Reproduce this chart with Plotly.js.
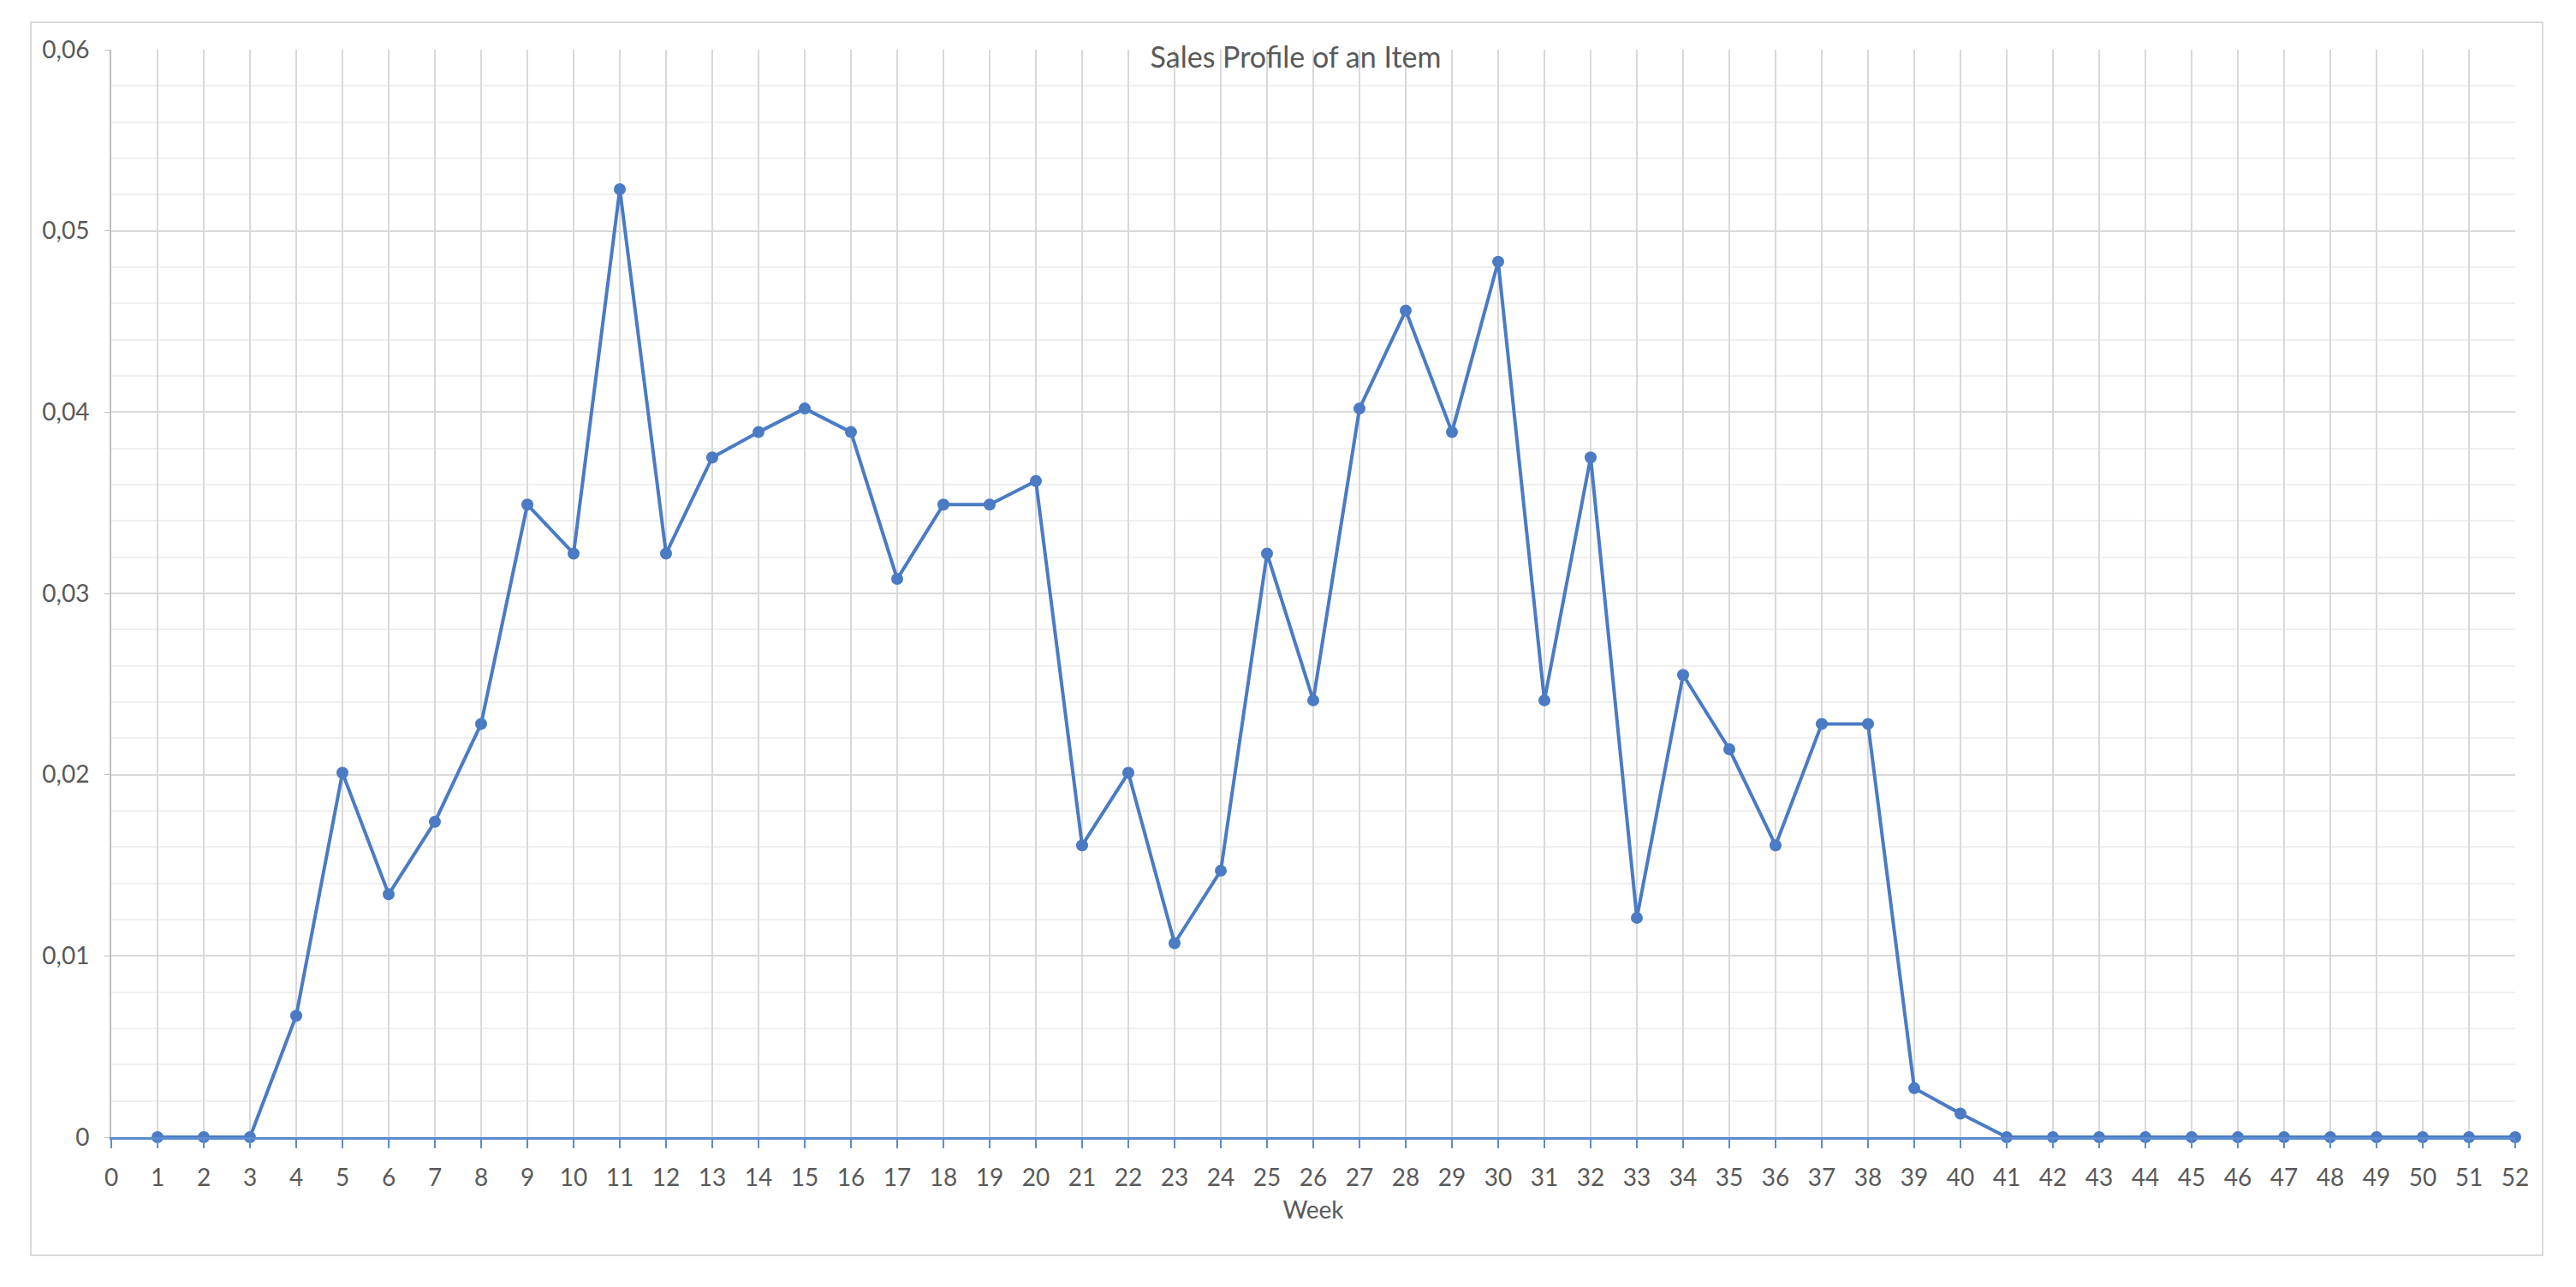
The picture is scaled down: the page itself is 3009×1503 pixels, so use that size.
<!DOCTYPE html>
<html>
<head>
<meta charset="utf-8">
<script src="https://cdn.plot.ly/plotly-3.0.1.min.js"></script>
<style>
    html, body { margin: 0; padding: 0; background: #ffffff; }
    #wrap { position: relative; width: 3009px; height: 1503px; }
    #chart { position: absolute; left: 0; top: 0; width: 3009px; height: 1503px; }
    #frame {
        position: absolute; left: 35px; top: 25px; width: 2932px; height: 1438px;
        border: 2px solid #d9d9d9; pointer-events: none;
    }
</style>
</head>
<body>
<div id="wrap">
    <div id="chart"></div>
    <div id="frame"></div>
</div>
<script>
// weeks 1..52 and the share of sales per week
const weeks = Array.from({ length: 52 }, (_, i) => i + 1);
const salesShare = [
    0, 0, 0, 0.0067, 0.0201, 0.0134, 0.0174, 0.0228, 0.0349, 0.0322,
    0.0523, 0.0322, 0.0375, 0.0389, 0.0402, 0.0389, 0.0308, 0.0349, 0.0349, 0.0362,
    0.0161, 0.0201, 0.0107, 0.0147, 0.0322, 0.0241, 0.0402, 0.0456, 0.0389, 0.0483,
    0.0241, 0.0375, 0.0121, 0.0255, 0.0214, 0.0161, 0.0228, 0.0228, 0.0027, 0.0013,
    0, 0, 0, 0, 0, 0, 0, 0, 0, 0,
    0, 0
];

const chartTitle = 'Sales Profile of an Item';
const xLabel = 'Week';

const textColor = '#595959';
const fontFamily = 'Lato, "Open Sans", "Noto Sans", sans-serif';

const plotData = [{
    x: weeks,
    y: salesShare,
    type: 'scatter',
    mode: 'lines+markers',
    cliponaxis: false,
    line: { color: '#4a7bc4', width: 4 },
    marker: { color: '#4a7bc4', size: 14 },
    hoverinfo: 'x+y'
}];

const layout = {
    width: 3009,
    height: 1503,
    separators: ', ',
    paper_bgcolor: '#ffffff',
    plot_bgcolor: '#ffffff',
    showlegend: false,
    font: { family: fontFamily, size: 28, color: textColor },
    title: {
        text: chartTitle,
        font: { family: fontFamily, size: 34, color: textColor },
        xref: 'container', x: 0.503,
        yref: 'container', y: 1 - 67 / 1503, yanchor: 'middle'
    },
    margin: { l: 130, r: 71, t: 58, b: 175 },
    xaxis: {
        range: [0, 52],
        dtick: 1,
        tick0: 0,
        showgrid: true,
        gridcolor: '#d9d9d9',
        gridwidth: 2,
        zeroline: false,
        showline: true,
        linecolor: '#5b8bd0',
        linewidth: 3,
        ticks: 'outside',
        ticklen: 10,
        tickwidth: 2,
        tickcolor: '#5b8bd0',
        ticklabelstandoff: 10,
        tickfont: { size: 28, color: textColor },
        title: { text: xLabel, standoff: 14, font: { size: 28, color: textColor } }
    },
    yaxis: {
        range: [0, 0.06],
        dtick: 0.01,
        showgrid: true,
        gridcolor: '#d9d9d9',
        gridwidth: 2,
        minor: { dtick: 0.002, showgrid: true, gridcolor: '#efefef', gridwidth: 2 },
        zeroline: false,
        showline: true,
        linecolor: '#bfbfbf',
        linewidth: 2,
        ticks: 'outside',
        ticklen: 6,
        tickcolor: '#bfbfbf',
        ticklabelstandoff: 12,
        tickfont: { size: 28, color: textColor }
    }
};

Plotly.newPlot('chart', plotData, layout, { displayModeBar: false, staticPlot: true });
</script>
</body>
</html>
